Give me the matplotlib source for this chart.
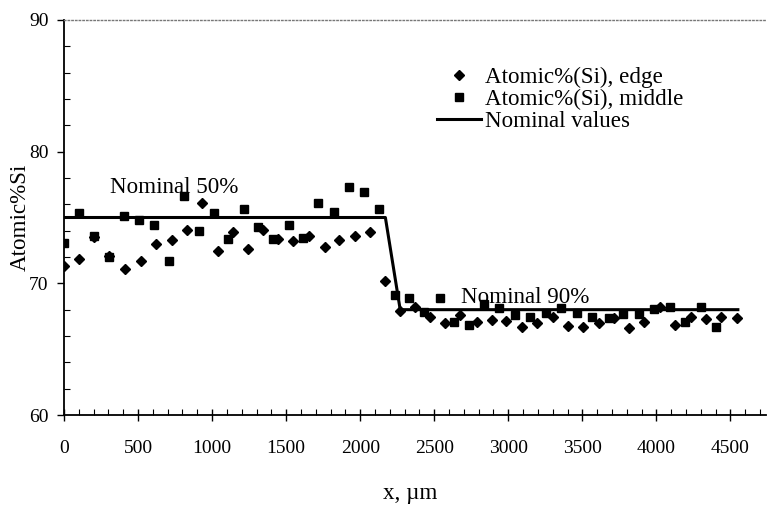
import matplotlib
matplotlib.use("Agg")
import matplotlib.pyplot as plt
from matplotlib.ticker import MultipleLocator

plt.rcParams['font.family'] = ['Liberation Serif', 'DejaVu Serif']

# edge series (diamonds)
edge_x = [2, 103, 205, 306, 412, 518, 622, 728, 829, 930, 1039, 1140, 1241,
          1347, 1448, 1549, 1655, 1759, 1860, 1964, 2068, 2169, 2270, 2372,
          2473, 2574, 2676, 2789, 2890, 2986, 3093, 3194, 3302, 3403, 3505,
          3610, 3711, 3813, 3919, 4022, 4128, 4234, 4336, 4439, 4545]
edge_y = [71.34, 71.83, 73.55, 72.08, 71.07, 71.72, 72.97, 73.30, 74.05, 76.08,
          72.48, 73.93, 72.63, 74.05, 73.35, 73.24, 73.60, 72.79, 73.30, 73.60,
          73.93, 70.20, 67.93, 68.19, 67.43, 66.97, 67.60, 67.05, 67.22, 67.17,
          66.71, 67.02, 67.43, 66.77, 66.71, 66.97, 67.35, 66.64, 67.07, 68.19,
          66.84, 67.47, 67.32, 67.47, 67.35]

# middle series (squares)
mid_x = [2, 103, 205, 306, 407, 507, 606, 709, 811, 912, 1016, 1110, 1214,
         1313, 1414, 1516, 1613, 1718, 1820, 1921, 2027, 2124, 2232, 2329,
         2428, 2536, 2635, 2736, 2838, 2939, 3047, 3149, 3255, 3358, 3464,
         3566, 3678, 3775, 3880, 3986, 4090, 4196, 4302, 4405]
mid_y = [73.09, 75.32, 73.60, 72.03, 75.12, 74.81, 74.41, 71.72, 76.64, 73.96,
         75.32, 73.35, 75.63, 74.31, 73.35, 74.41, 73.42, 76.13, 75.42, 77.34,
         76.96, 75.63, 69.12, 68.91, 67.85, 68.87, 67.09, 66.84, 68.44, 68.11,
         67.60, 67.43, 67.73, 68.16, 67.78, 67.43, 67.35, 67.68, 67.68, 68.06,
         68.19, 67.05, 68.19, 66.71]

# nominal profile
nom_x = [0, 2170, 2270, 4550]
nom_y = [75, 75, 68, 68]

fig = plt.figure(figsize=(7.67, 5.08), dpi=100)
ax = fig.add_axes([64 / 767, 1 - 415 / 508, 702 / 767, 395 / 508])

ax.plot(edge_x, edge_y, 'D', color='black', markersize=5.5, linestyle='none',
        label='Atomic%(Si), edge')
ax.plot(mid_x, mid_y, 's', color='black', markersize=6, linestyle='none',
        label='Atomic%(Si), middle')
ax.plot(nom_x, nom_y, '-', color='black', linewidth=2.2, label='Nominal values')

ax.set_xlim(0, 4740)
ax.set_ylim(60, 90)
ax.xaxis.set_major_locator(MultipleLocator(500))
ax.xaxis.set_minor_locator(MultipleLocator(100))
ax.yaxis.set_major_locator(MultipleLocator(10))
ax.yaxis.set_minor_locator(MultipleLocator(2))

ax.tick_params(axis='x', which='major', direction='inout', length=8, width=1,
               labelsize=14, pad=14)
ax.tick_params(axis='x', which='minor', direction='in', length=4, width=0.8)
ax.tick_params(axis='y', which='major', direction='out', length=5, width=1,
               labelsize=14, pad=6)
ax.tick_params(axis='y', which='minor', direction='in', length=4, width=0.8)

ax.spines['right'].set_visible(False)
ax.spines['top'].set_color('#777777')
ax.spines['top'].set_linestyle(':')
ax.spines['top'].set_linewidth(1)
ax.spines['left'].set_linewidth(1.3)
ax.spines['bottom'].set_linewidth(1.3)

ax.text(311, 76.86, 'Nominal 50%', fontsize=16.6, va='baseline', ha='left')
ax.text(2682, 68.49, 'Nominal 90%', fontsize=16.6, va='baseline', ha='left')

ax.legend(loc='upper left', bbox_to_anchor=(0.532, 0.882), frameon=False,
          fontsize=16.6, handlelength=1.9, handletextpad=0.15,
          labelspacing=0.04, borderpad=0, borderaxespad=0)

fig.text(410 / 767, 1 - 494 / 508, 'x, µm', fontsize=16.6, ha='center', va='center')
fig.text(20 / 767, 1 - 217 / 508, 'Atomic%Si', fontsize=16.6, ha='center',
         va='center', rotation=90)

fig.savefig('out.png', dpi=100)
